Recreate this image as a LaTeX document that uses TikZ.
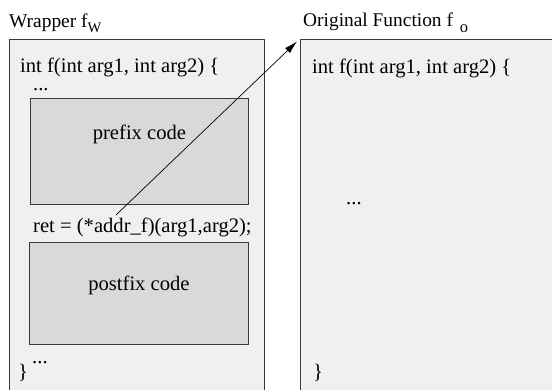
\documentclass[tikz,border=0pt]{standalone}
\usepackage{fontspec}
\setmainfont{Liberation Serif}
\usetikzlibrary{arrows.meta}
\definecolor{outerfill}{HTML}{F0F0F0}
\definecolor{innerfill}{HTML}{D9D9D9}
\definecolor{edge}{HTML}{3A3A3A}
\tikzset{
  outerbox/.style={draw=edge, line width=0.9pt, fill=outerfill, rectangle, inner sep=0pt, anchor=north west},
  innerbox/.style={draw=edge, line width=0.9pt, fill=innerfill, rectangle, inner sep=0pt, anchor=north west},
  code/.style={font=\fontsize{20.6}{24}\selectfont, inner sep=0pt, anchor=base west},
  head/.style={font=\fontsize{19.4}{22}\selectfont, inner sep=0pt, anchor=base west},
  callarrow/.style={draw=black, line width=0.7pt, -{Latex[length=13pt,width=7pt]}}
}
\begin{document}
\begin{tikzpicture}[x=1pt,y=-1pt]
\useasboundingbox (0,0) rectangle (552,389);
% outer boxes (extend below the page)
\node[outerbox, minimum width=255pt, minimum height=370pt] (wrapper) at (9,39) {};
\node[outerbox, minimum width=270pt, minimum height=370pt] (orig) at (300,38.5) {};
% inner boxes
\node[innerbox, minimum width=218pt, minimum height=106pt] (prefix) at (30,98) {};
\node[innerbox, minimum width=219pt, minimum height=102pt] (postfix) at (29,242) {};
% headers
\node[head] (whead) at (9,27) {Wrapper f\raisebox{-5pt}{\fontsize{14.5}{16}\selectfont W}};
\node[head] (ohead) at (303,26.5) {Original Function f\hspace{7pt}\raisebox{-6pt}{\fontsize{16.5}{18}\selectfont o}};
% wrapper code
\node[code] (wsig) at (20,72.5) {int f(int arg1, int arg2) \{};
\node[code] (wdots1) at (33,90) {...};
\node[font=\fontsize{20.6}{24}\selectfont, inner sep=0pt, anchor=base] (ptext) at (prefix.center |- 0,139) {prefix code};
\node[code] (wret) at (33,232) {ret = (*addr\_f)(arg1,arg2);};
\node[font=\fontsize{20.6}{24}\selectfont, inner sep=0pt, anchor=base] (pftext) at (postfix.center |- 0,290) {postfix code};
\node[code] (wdots2) at (32,363) {...};
\node[code] (wend) at (18,378) {\}};
% original code
\node[code] (osig) at (312,73) {int f(int arg1, int arg2) \{};
\node[code] (odots) at (346,204) {...};
\node[code] (oend) at (313,378) {\}};
% call arrow
\coordinate (callsite) at (116,215);
\draw[callarrow] (callsite) -- ([shift={(-3,3)}]orig.north west);
\end{tikzpicture}
\end{document}
